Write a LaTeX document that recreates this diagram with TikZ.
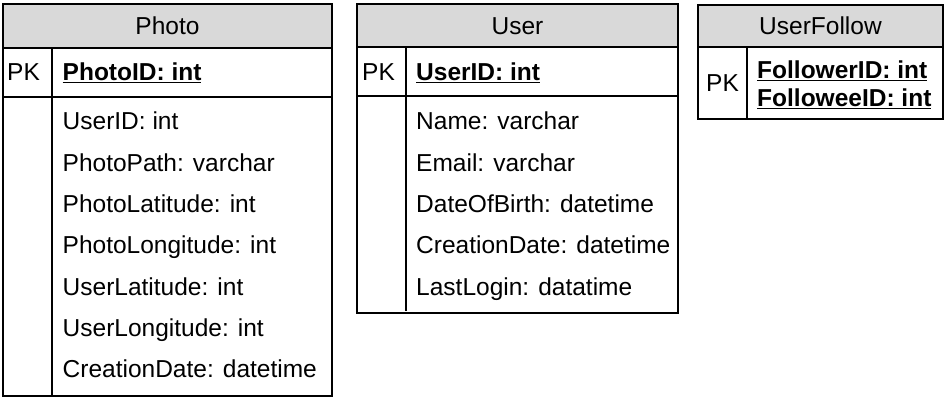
\documentclass[tikz,border=0pt]{standalone}
\usepackage{fontspec}
\setmainfont{Liberation Sans}
\definecolor{hdrgray}{RGB}{217,217,217}
\begin{document}
\begin{tikzpicture}[x=1pt,y=-1pt,
  tbl/.style={draw=black, line width=1.6pt},
  txt/.style={inner sep=0pt, font=\fontsize{24.5}{28}\selectfont},
  htext/.style={txt, anchor=base},
  ftext/.style={txt, anchor=base west},
  pkf/.style={txt, anchor=base west, font=\fontsize{24.5}{28}\selectfont\bfseries}
]
\useasboundingbox (0,0) rectangle (947,409);

% ---------- Photo ----------
\fill[hdrgray] (3,4) rectangle (332,48);
\draw[tbl] (3,4) rectangle (332,396);
\draw[tbl] (3,48) -- (332,48);
\draw[tbl] (3,97) -- (332,97);
\draw[tbl] (52,48) -- (52,396);
\node[htext] (photoT) at (167.5,35) {Photo};
\node[ftext] (photoPK) at (7,81) {PK};
\node[pkf] (photoID) at (62.5,81) {\underline{PhotoID: int}};
\foreach \t [count=\i from 0] in {UserID: int, PhotoPath: varchar, PhotoLatitude: int, PhotoLongitude: int, UserLatitude: int, UserLongitude: int, CreationDate: datetime}
  \node[ftext] (photoF\i) at (62.5,130+41.3*\i) {\t};

% ---------- User ----------
\fill[hdrgray] (357,4) rectangle (678,47);
\draw[tbl] (357,4) rectangle (678,313);
\draw[tbl] (357,47) -- (678,47);
\draw[tbl] (357,96) -- (678,96);
\draw[tbl] (406,47) -- (406,311);
\node[htext] (userT) at (517.5,35) {User};
\node[ftext] (userPK) at (362,81) {PK};
\node[pkf] (userID) at (416,81) {\underline{UserID: int}};
\foreach \t [count=\i from 0] in {Name: varchar, Email: varchar, DateOfBirth: datetime, CreationDate: datetime, LastLogin: datatime}
  \node[ftext] (userF\i) at (416,130+41.3*\i) {\t};

% ---------- UserFollow ----------
\fill[hdrgray] (698,5) rectangle (943,47);
\draw[tbl] (698,5) rectangle (943,119);
\draw[tbl] (698,47) -- (943,47);
\draw[tbl] (747,47) -- (747,119);
\node[htext] (ufT) at (820.5,35) {UserFollow};
\node[htext] (ufPK) at (722.5,92) {PK};
\node[pkf] (ufA) at (757,79) {\underline{FollowerID: int}};
\node[pkf] (ufB) at (757,107) {\underline{FolloweeID: int}};
\end{tikzpicture}
\end{document}
